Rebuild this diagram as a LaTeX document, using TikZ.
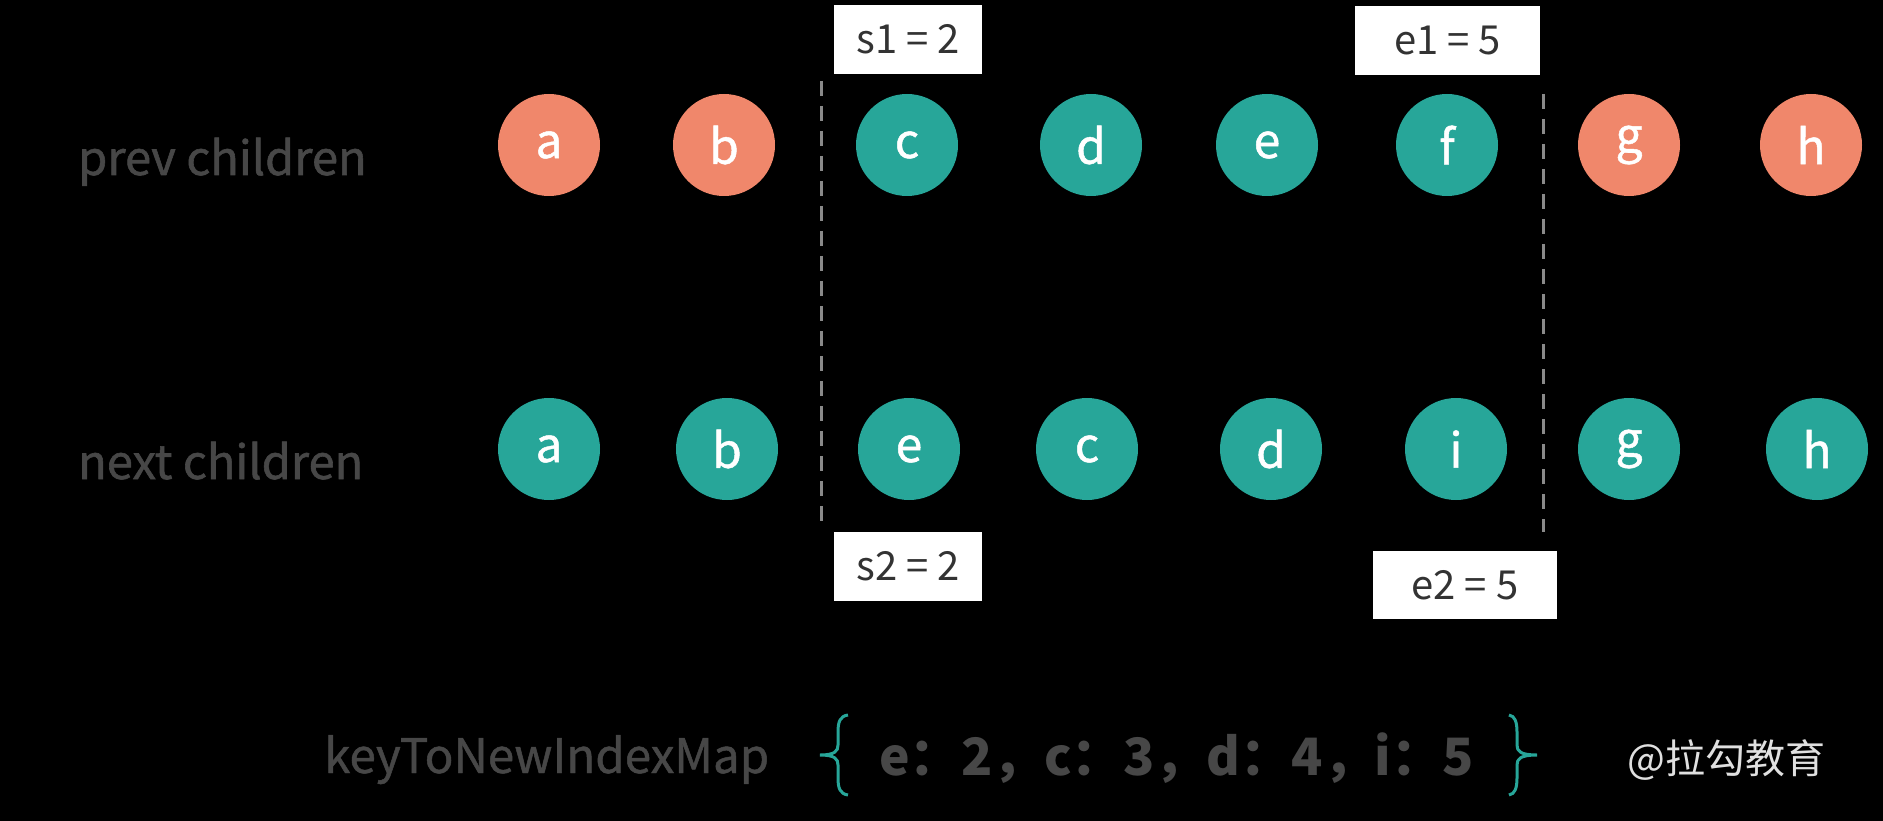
\documentclass[tikz,border=0pt]{standalone}
\usepackage{fontspec}
\setmainfont{Noto Sans CJK SC}
\definecolor{orng}{HTML}{F0876B}
\definecolor{teal}{HTML}{27A699}
\definecolor{lblgray}{HTML}{474747}
\definecolor{boxtext}{HTML}{333333}
\definecolor{dashgray}{HTML}{8A8A8A}
\begin{document}
\begin{tikzpicture}[x=1pt,y=-1pt,
  ball/.style={circle, minimum size=102pt, inner sep=0pt, text=white, font=\fontsize{48}{50}\selectfont\addfontfeature{FakeBold=1}},
  oldball/.style={ball, fill=orng},
  newball/.style={ball, fill=teal},
  rowlabel/.style={anchor=base west, inner sep=0pt, text=lblgray, font=\fontsize{47}{50}\selectfont\addfontfeature{FakeBold=1.2}},
  tagbox/.style={fill=white, inner sep=0pt, text=boxtext, font=\fontsize{40}{48}\selectfont},
  divider/.style={dashgray, line width=3pt, dash pattern=on 15pt off 10pt},
  brace/.style={teal, line width=3pt}
]
\fill[black] (0,0) rectangle (1883,821);
\useasboundingbox (0,0) rectangle (1883,821);

% row labels
\node[rowlabel] (prevlbl) at (78,175) {prev children};
\node[rowlabel] (nextlbl) at (78,479) {next children};

% prev children
\node[oldball] (pa) at (549,145) {a};
\node[oldball] (pb) at (724,145) {b};
\node[newball] (pc) at (907,145) {c};
\node[newball] (pd) at (1091,145) {d};
\node[newball] (pe) at (1267,145) {e};
\node[newball] (pf) at (1447,145) {f};
\node[oldball] (pg) at (1629,145) {g};
\node[oldball] (ph) at (1811,145) {h};

% next children
\node[newball] (na) at (549,449) {a};
\node[newball] (nb) at (727,449) {b};
\node[newball] (ne) at (909,449) {e};
\node[newball] (nc) at (1087,449) {c};
\node[newball] (nd) at (1271,449) {d};
\node[newball] (ni) at (1456,449) {i};
\node[newball] (ng) at (1629,449) {g};
\node[newball] (nh) at (1817,449) {h};

% dashed dividers
\coordinate (d1top) at (821,81);
\coordinate (d1bot) at (821,521);
\coordinate (d2top) at (1543,94);
\coordinate (d2bot) at (1543,532);
\draw[divider] (d1top) -- (d1bot);
\draw[divider] (d2top) -- (d2bot);

% index tags
\node[tagbox, minimum width=148pt, minimum height=69pt] (s1) at (908,39.5) {s1 = 2};
\node[tagbox, minimum width=185pt, minimum height=69pt] (e1) at (1447.5,40.5) {e1 = 5};
\node[tagbox, minimum width=148pt, minimum height=69pt] (s2) at (908,566.5) {s2 = 2};
\node[tagbox, minimum width=184pt, minimum height=68pt] (e2) at (1465,585) {e2 = 5};

% keyToNewIndexMap
\node[anchor=base west, inner sep=0pt, text=lblgray, font=\fontsize{47.5}{50}\selectfont\addfontfeature{FakeBold=1}] (mapname) at (324,773) {keyToNewIndexMap};
\draw[brace] (848,715) .. controls (840,716) and (838,722) .. (838,732) -- (838,745)
  .. controls (838,751) and (835,755) .. (820,755)
  .. controls (835,755) and (838,759) .. (838,765) -- (838,778)
  .. controls (838,788) and (840,794) .. (848,795);
\draw[brace] (1509,715) .. controls (1515,716) and (1517,722) .. (1517,732) -- (1517,745)
  .. controls (1517,751) and (1520,755) .. (1537,755)
  .. controls (1520,755) and (1517,759) .. (1517,765) -- (1517,778)
  .. controls (1517,788) and (1515,794) .. (1509,795);
\node[anchor=base west, inner sep=0pt, text=lblgray, font=\fontsize{51.5}{60}\selectfont\bfseries] (mapbody) at (879,775) {e：2，c：3，d：4，i：5};

% watermark
\node[anchor=base west, inner sep=0pt, text=white!88!black, font=\fontsize{40}{44}\selectfont] (mark) at (1627,773) {@拉勾教育};
\end{tikzpicture}
\end{document}
